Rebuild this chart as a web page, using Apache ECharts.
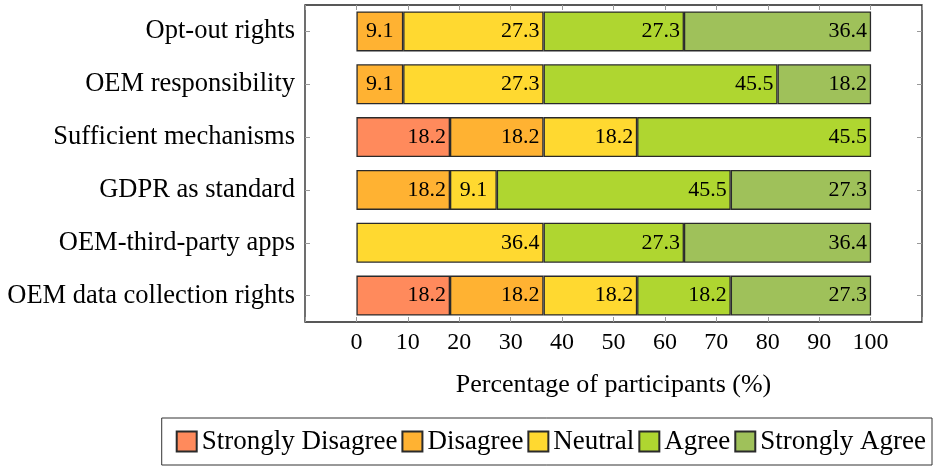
<!DOCTYPE html>
<html>
<head>
<meta charset="utf-8">
<script src="https://cdn.jsdelivr.net/npm/echarts@6/dist/echarts.min.js"></script>
<style>
  html, body { margin: 0; padding: 0; background: #fff; }
  #chart { width: 936px; height: 467px; }
</style>
</head>
<body>
<div id="chart"></div>
<script>
// survey statements, top to bottom
const categories = [
  'Opt-out rights',
  'OEM responsibility',
  'Sufficient mechanisms',
  'GDPR as standard',
  'OEM-third-party apps',
  'OEM data collection rights'
];
const levels = ['Strongly Disagree', 'Disagree', 'Neutral', 'Agree', 'Strongly Agree'];
const colors = ['#ff8a5c', '#ffb232', '#ffd930', '#afd630', '#9fc15a'];

// percentages per level (null = no answer in that level)
const stronglyDisagree = [null, null, 18.2, null, null, 18.2];
const disagree         = [9.1, 9.1, 18.2, 18.2, null, 18.2];
const neutral          = [27.3, 27.3, 18.2, 9.1, 36.4, 18.2];
const agree            = [27.3, 45.5, 45.5, 45.5, 27.3, 18.2];
const stronglyAgree    = [36.4, 18.2, null, 27.3, 36.4, 27.3];

const xTicks = [0, 10, 20, 30, 40, 50, 60, 70, 80, 90, 100];

const seriesData = [stronglyDisagree, disagree, neutral, agree, stronglyAgree];
const font = 'Liberation Serif';

const chart = echarts.init(document.getElementById('chart'));

const tickStyle = { show: true, inside: true, length: 5, lineStyle: { color: '#999', width: 1 } };

const option = {
  animation: false,
  textStyle: { fontFamily: font },
  grid: {
    left: 305, right: 14, top: 5, bottom: 145,
    show: true, borderColor: '#222', borderWidth: 1.3, containLabel: false
  },
  legend: {
    data: levels,
    right: 4, top: 418,
    padding: [10, 6, 10, 14],
    borderColor: '#333', borderWidth: 1,
    itemWidth: 20, itemHeight: 20, itemGap: 4,
    icon: 'rect',
    textStyle: { fontFamily: font, fontSize: 27, color: '#000' }
  },
  xAxis: [{
    type: 'value', min: -10, max: 110, interval: 10,
    axisLine: { show: false, onZero: false },
    axisTick: tickStyle,
    splitLine: { show: false },
    axisLabel: {
      fontFamily: font, fontSize: 24, color: '#000', margin: 9,
      formatter: v => (xTicks.includes(v) ? String(v) : '')
    },
    name: 'Percentage of participants (%)',
    nameLocation: 'middle', nameGap: 50,
    nameTextStyle: { fontFamily: font, fontSize: 26, color: '#000' }
  }, {
    type: 'value', position: 'top', min: -10, max: 110, interval: 10,
    axisLine: { show: false, onZero: false }, axisTick: tickStyle,
    axisLabel: { show: false }, splitLine: { show: false }
  }],
  yAxis: [{
    type: 'category', data: categories, inverse: true,
    axisLine: { show: false, onZero: false },
    axisTick: Object.assign({ alignWithLabel: true }, tickStyle),
    axisLabel: { fontFamily: font, fontSize: 26.5, color: '#000', margin: 10 }
  }, {
    type: 'category', data: categories, inverse: true, position: 'right',
    axisLine: { show: false, onZero: false },
    axisTick: Object.assign({ alignWithLabel: true }, tickStyle),
    axisLabel: { show: false }
  }],
  series: levels.map((name, i) => ({
    name: name,
    type: 'bar',
    stack: 'total',
    barWidth: 40,
    data: seriesData[i].map(v => (v != null && v < 10
      ? { value: v, label: { position: 'inside' } }
      : v)),
    itemStyle: { color: colors[i], borderColor: '#2a2a2a', borderWidth: 1.3 },
    label: {
      show: true, position: 'insideRight', distance: 4,
      fontFamily: font, fontSize: 22, color: '#000',
      formatter: p => (p.value == null ? '' : p.value.toFixed(1))
    }
  }))
};

chart.setOption(option);
</script>
</body>
</html>
